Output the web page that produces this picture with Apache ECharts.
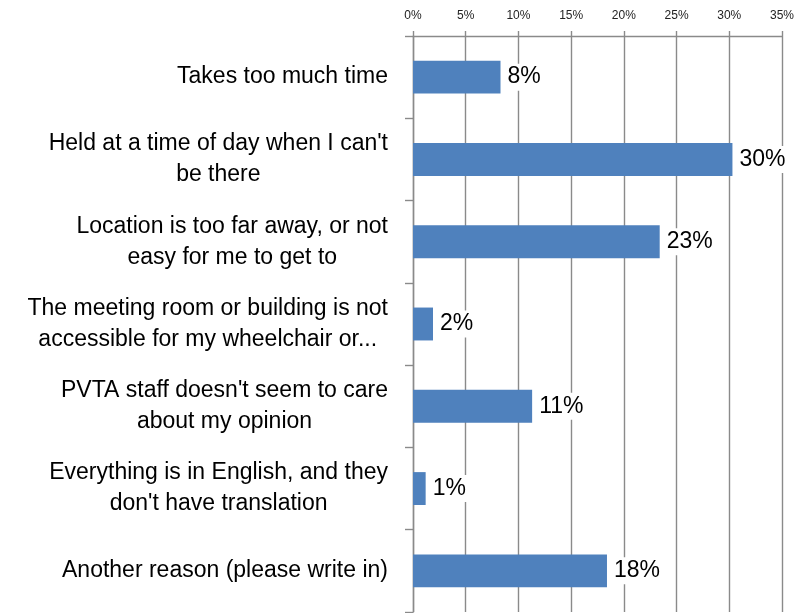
<!DOCTYPE html>
<html>
<head>
<meta charset="utf-8">
<script src="https://cdn.jsdelivr.net/npm/echarts@6/dist/echarts.min.js"></script>
<style>html,body{margin:0;padding:0;background:#fff}#c{width:797px;height:613px}</style>
</head>
<body>
<div id="c"></div>
<script>
var categories = [
  "Takes too much time",
  "Held at a time of day when I can't\nbe there",
  "Location is too far away, or not\neasy for me to get to",
  "The meeting room or building is not\naccessible for my wheelchair or...",
  "PVTA staff doesn't seem to care\nabout my opinion",
  "Everything is in English, and they\ndon't have translation",
  "Another reason (please write in)"
];
var values = [8.3, 30.3, 23.4, 1.9, 11.3, 1.2, 18.4];
var tickLabels = ["0%", "5%", "10%", "15%", "20%", "25%", "30%", "35%"];

var FONT = "'Liberation Sans', Arial, sans-serif";
var chart = echarts.init(document.getElementById('c'));
chart.setOption({
  animation: false,
  backgroundColor: '#fff',
  grid: { left: 413, right: 14, top: 36, bottom: 1, containLabel: false },
  xAxis: {
    type: 'value', position: 'top', min: 0, max: 35, interval: 5,
    axisLine: { show: true, lineStyle: { color: '#8a8a8a', width: 1.4 } },
    axisTick: { show: true, length: 5, lineStyle: { color: '#8a8a8a', width: 1.4 } },
    splitLine: { show: true, lineStyle: { color: '#8a8a8a', width: 1.4 } },
    axisLabel: {
      margin: 14, fontSize: 12, fontFamily: FONT, color: '#222',
      formatter: function (v) { return tickLabels[Math.round(v / 5)]; }
    }
  },
  yAxis: {
    type: 'category', inverse: true, data: categories,
    axisLine: { show: true, lineStyle: { color: '#8a8a8a', width: 1.4 } },
    axisTick: { show: true, length: 8, inside: false, lineStyle: { color: '#8a8a8a', width: 1.4 } },
    axisLabel: {
      margin: 25, fontSize: 23, fontFamily: FONT, color: '#000', lineHeight: 31,
      formatter: function (v) {
        return v.split('\n').map(function (s) { return '{c|' + s + '}'; }).join('\n');
      },
      rich: { c: { align: 'center', fontSize: 23, fontFamily: FONT, color: '#000', lineHeight: 31 } }
    }
  },
  series: [{
    type: 'bar', data: values, barWidth: '40%',
    itemStyle: { color: '#4F81BD' },
    label: {
      show: true, position: 'right', distance: 5,
      fontSize: 23, fontFamily: FONT, color: '#000',
      backgroundColor: '#fff', padding: [2, 2],
      formatter: function (p) { return Math.round(p.value) + '%'; }
    }
  }]
});
</script>
</body>
</html>
